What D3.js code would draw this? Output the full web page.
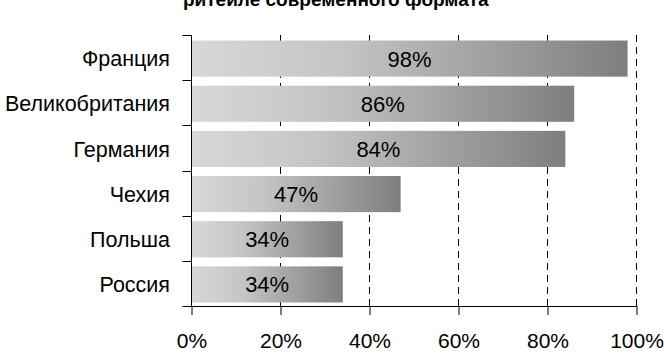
<!DOCTYPE html>
<html>
<head>
<meta charset="utf-8">
<script src="https://cdn.jsdelivr.net/npm/d3@7"></script>
<style>
  html, body { margin: 0; padding: 0; background: #fff; }
  svg { display: block; font-family: Arial, "Liberation Sans", sans-serif; }
</style>
</head>
<body>
<svg id="chart" width="664" height="354"></svg>
<script>
// Share of modern-format retail by country
const countries = ["Франция", "Великобритания", "Германия", "Чехия", "Польша", "Россия"];
const shares = [98, 86, 84, 47, 34, 34];
const xTicks = [0, 20, 40, 60, 80, 100];
const titleLine = "ритейле современного формата";

const svg = d3.select("#chart");
const margin = { left: 191.5, right: 27.5, top: 35, bottom: 48 };
const W = 664, H = 354;

const x = d3.scaleLinear().domain([0, 100]).range([margin.left, W - margin.right]);
const y = d3.scaleBand().domain(countries).range([margin.top, H - margin.bottom])
  .paddingInner(0.2).paddingOuter(0.1);

// Horizontal gradient for every bar (light on the left, dark on the right)
const defs = svg.append("defs");
const grad = defs.append("linearGradient").attr("id", "barGrad")
  .attr("x1", "0%").attr("x2", "100%").attr("y1", "0%").attr("y2", "0%");
grad.append("stop").attr("offset", "0%").attr("stop-color", "#d8d8d8");
grad.append("stop").attr("offset", "35%").attr("stop-color", "#c4c4c4");
grad.append("stop").attr("offset", "100%").attr("stop-color", "#7e7e7e");

// Title (second line)
svg.append("text")
  .attr("x", 183).attr("y", 6)
  .attr("font-size", 19).attr("font-weight", "bold").attr("fill", "#000")
  .text(titleLine);

// Dashed vertical gridlines
svg.append("g").selectAll("line")
  .data(xTicks.filter(d => d > 0))
  .join("line")
  .attr("x1", d => x(d)).attr("x2", d => x(d))
  .attr("y1", margin.top).attr("y2", H - margin.bottom)
  .attr("stroke", "#000").attr("stroke-width", 1)
  .attr("stroke-dasharray", "7,5");

// Bars
svg.append("g").selectAll("rect")
  .data(countries)
  .join("rect")
  .attr("x", x(0))
  .attr("y", d => y(d) + 1)
  .attr("width", (d, i) => x(shares[i]) - x(0))
  .attr("height", y.bandwidth())
  .attr("fill", "url(#barGrad)");

// Value labels centred in each bar
svg.append("g").selectAll("text")
  .data(countries)
  .join("text")
  .attr("x", (d, i) => (x(0) + x(shares[i])) / 2)
  .attr("y", d => y(d) + 1 + y.bandwidth() / 2)
  .attr("dy", "0.36em")
  .attr("text-anchor", "middle")
  .attr("font-size", 22).attr("fill", "#000")
  .text((d, i) => shares[i] + "%");

// Bottom axis
const xAxis = d3.axisBottom(x).tickValues(xTicks).tickFormat(d => d + "%")
  .tickSizeInner(9).tickSizeOuter(0).tickPadding(18);
const gx = svg.append("g").attr("transform", `translate(0,${H - margin.bottom})`).call(xAxis);
gx.select(".domain").attr("d", `M${x(0) - 8},0.5H${x(100)}`).attr("stroke", "#000");
gx.selectAll(".tick line").attr("stroke", "#000");
gx.selectAll(".tick text").attr("font-size", 21).attr("fill", "#000").attr("font-family", null);

// Left axis: line with ticks between categories
const gy = svg.append("g");
gy.append("line")
  .attr("x1", x(0)).attr("x2", x(0))
  .attr("y1", margin.top).attr("y2", H - margin.bottom)
  .attr("stroke", "#000");
const boundaries = d3.range(countries.length + 1).map(i => margin.top + i * (H - margin.top - margin.bottom) / countries.length);
gy.selectAll("line.tk")
  .data(boundaries)
  .join("line").attr("class", "tk")
  .attr("x1", x(0) - 9).attr("x2", x(0))
  .attr("y1", d => Math.round(d) + 0.5).attr("y2", d => Math.round(d) + 0.5)
  .attr("stroke", "#000");

// Category labels
gy.selectAll("text")
  .data(countries)
  .join("text")
  .attr("x", 170)
  .attr("y", (d, i) => (boundaries[i] + boundaries[i + 1]) / 2 + 1)
  .attr("dy", "0.36em")
  .attr("text-anchor", "end")
  .attr("font-size", 21.5).attr("fill", "#000")
  .text(d => d);
</script>
</body>
</html>
